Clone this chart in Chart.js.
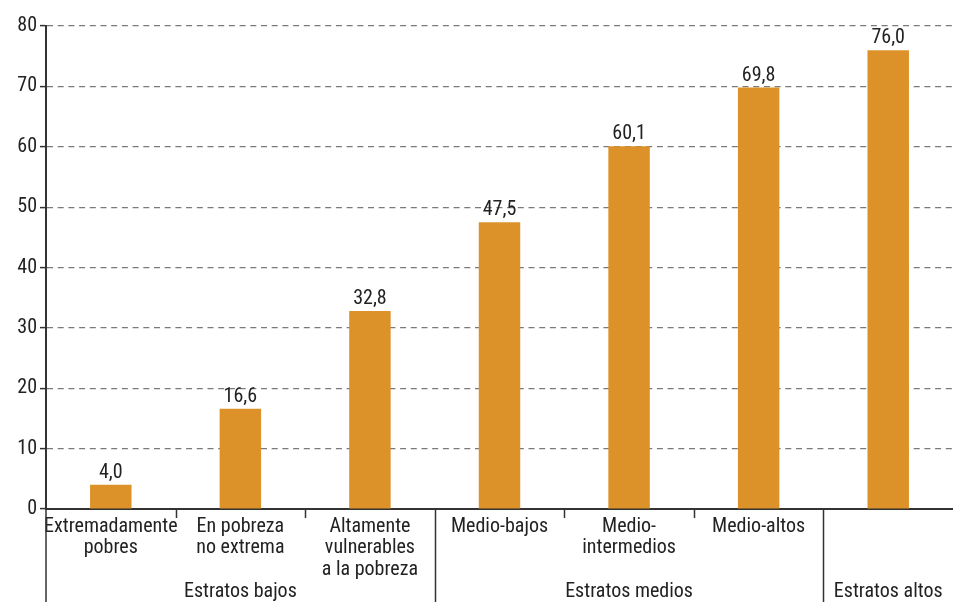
<!DOCTYPE html>
<html>
<head>
<meta charset="utf-8">
<script src="https://cdn.jsdelivr.net/npm/chart.js@4/dist/chart.umd.min.js"></script>
<style>
  html,body{margin:0;padding:0;background:#fff;}
  #wrap{width:953px;height:602px;position:relative;}
</style>
</head>
<body>
<div id="wrap"><canvas id="c"></canvas></div>
<script>
const categories = [
  ['Extremadamente','pobres'],
  ['En pobreza','no extrema'],
  ['Altamente','vulnerables','a la pobreza'],
  ['Medio-bajos'],
  ['Medio-','intermedios'],
  ['Medio-altos'],
  ['']
];
const values = [4.0, 16.6, 32.8, 47.5, 60.1, 69.8, 76.0];
const groupNames = ['Estratos bajos','Estratos medios','Estratos altos'];
const groupSizes = [3, 3, 1];
const yTicks = [0,10,20,30,40,50,60,70,80];

const FONT = "'Roboto Condensed','Liberation Sans Narrow',Roboto,sans-serif";
const TXT = '#222';
const AXIS = '#333';

// value labels on top of each bar
const barLabels = {
  id:'barLabels',
  afterDatasetsDraw(chart){
    const ctx=chart.ctx, meta=chart.getDatasetMeta(0);
    ctx.save();
    ctx.font='20px '+FONT; ctx.fillStyle=TXT;
    ctx.textAlign='center'; ctx.textBaseline='alphabetic';
    meta.data.forEach((bar,i)=>{
      ctx.fillText(values[i].toFixed(1).replace('.',','), bar.x, bar.y-7);
    });
    ctx.restore();
  }
};

// separators below the x axis and group captions
const groups = {
  id:'groups',
  afterDraw(chart){
    const ctx=chart.ctx, x=chart.scales.x, area=chart.chartArea, H=chart.height;
    const edge=i=> (x.getPixelForValue(i-1)+x.getPixelForValue(i))/2;
    ctx.save();
    ctx.strokeStyle=AXIS; ctx.lineWidth=1.5;
    // y axis continues down through the label area
    ctx.beginPath(); ctx.moveTo(area.left,area.bottom); ctx.lineTo(area.left,H); ctx.stroke();
    let start=0;
    groupSizes.forEach((n,g)=>{
      for(let k=1;k<n;k++){
        const px=Math.round(edge(start+k))+0.5;
        ctx.beginPath(); ctx.moveTo(px,area.bottom); ctx.lineTo(px,area.bottom+9); ctx.stroke();
      }
      const end=start+n;
      if(end<values.length){
        const px=Math.round(edge(end))+0.5;
        ctx.beginPath(); ctx.moveTo(px,area.bottom); ctx.lineTo(px,H); ctx.stroke();
      }
      const left = start===0 ? area.left : edge(start);
      const right = end>=values.length ? area.right : edge(end);
      ctx.font='20px '+FONT; ctx.fillStyle=TXT;
      ctx.textAlign='center'; ctx.textBaseline='alphabetic';
      ctx.fillText(groupNames[g], (left+right)/2, H-5);
      start=end;
    });
    ctx.restore();
  }
};

new Chart(document.getElementById('c'),{
  type:'bar',
  data:{labels:categories,datasets:[{data:values,backgroundColor:'#DC9229',barPercentage:0.32,categoryPercentage:1}]},
  options:{
    responsive:true,maintainAspectRatio:false,animation:false,
    layout:{padding:{top:26,right:0,left:0,bottom:0}},
    plugins:{legend:{display:false},tooltip:{enabled:false}},
    scales:{
      x:{
        grid:{display:false,drawTicks:false},
        border:{display:true,color:AXIS,width:2},
        ticks:{font:{family:FONT,size:20,lineHeight:1.08},color:TXT,padding:7,maxRotation:0,autoSkip:false},
        afterFit(s){s.height=93;}
      },
      y:{
        min:0,max:80,
        afterBuildTicks(s){s.ticks=yTicks.map(v=>({value:v}));},
        grid:{color:'#7a7a7a',lineWidth:1.2,tickLength:6,tickColor:AXIS,tickBorderDash:[],tickWidth:1.5},
        border:{display:true,color:AXIS,width:2,dash:[6,4.7]},
        ticks:{font:{family:FONT,size:20},color:TXT,padding:3},
        afterFit(s){s.width=46;}
      }
    }
  },
  plugins:[barLabels,groups]
});
</script>
</body>
</html>
